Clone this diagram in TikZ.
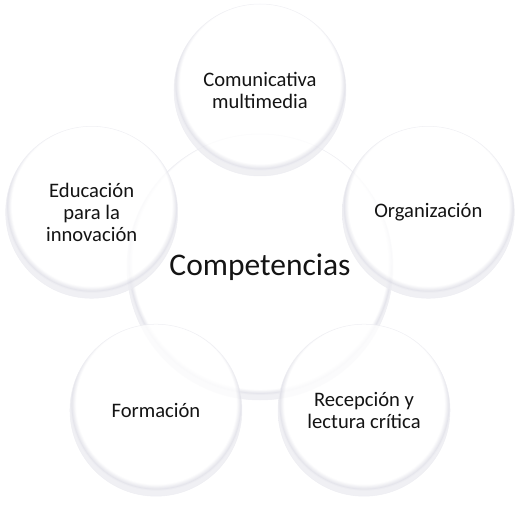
\documentclass[tikz,border=0pt]{standalone}
\usepackage{fontspec}
\setmainfont{Carlito}
\usepackage{tikz}

\definecolor{rimgray}{RGB}{222,222,230}
\definecolor{edgegray}{RGB}{236,236,241}
\pgfdeclareradialshading{rim}{\pgfpoint{0bp}{3.5bp}}{color(0bp)=(white); color(23.3bp)=(white); color(24.6bp)=(rimgray); color(25bp)=(edgegray); color(50bp)=(edgegray)}
\pgfdeclareradialshading{hubrim}{\pgfpoint{0bp}{2bp}}{color(0bp)=(white); color(24bp)=(white); color(24.7bp)=(rimgray); color(25bp)=(edgegray); color(50bp)=(edgegray)}

\tikzset{
  bubble/.style={shape=circle, draw=edgegray, line width=0.5pt, shade, shading=rim,
    fill opacity=0.8, draw opacity=0.8, text opacity=1, text=black!92,
    minimum size=172pt, inner sep=0pt, align=center,
    font=\fontsize{20.6}{22}\selectfont},
  hub/.style={bubble, shading=hubrim, minimum size=266pt, font=\fontsize{31.5}{33}\selectfont}
}

\begin{document}
\begin{tikzpicture}[x=1pt, y=1pt]
\useasboundingbox (-260,-241) rectangle (267,267);
\node at (0, 0) [hub] (comp) {Competencias};
\node at (90:177) [bubble] (comm) {Comunicativa\\multimedia};
\node at (18:177) [bubble] (org) {Organización};
\node at (-54:177) [bubble] (recep) {Recepción y\\lectura crítica};
\node at (-126:177) [bubble] (form) {Formación};
\node at (162:177) [bubble] (educ) {Educación\\para la\\innovación};
\end{tikzpicture}
\end{document}
